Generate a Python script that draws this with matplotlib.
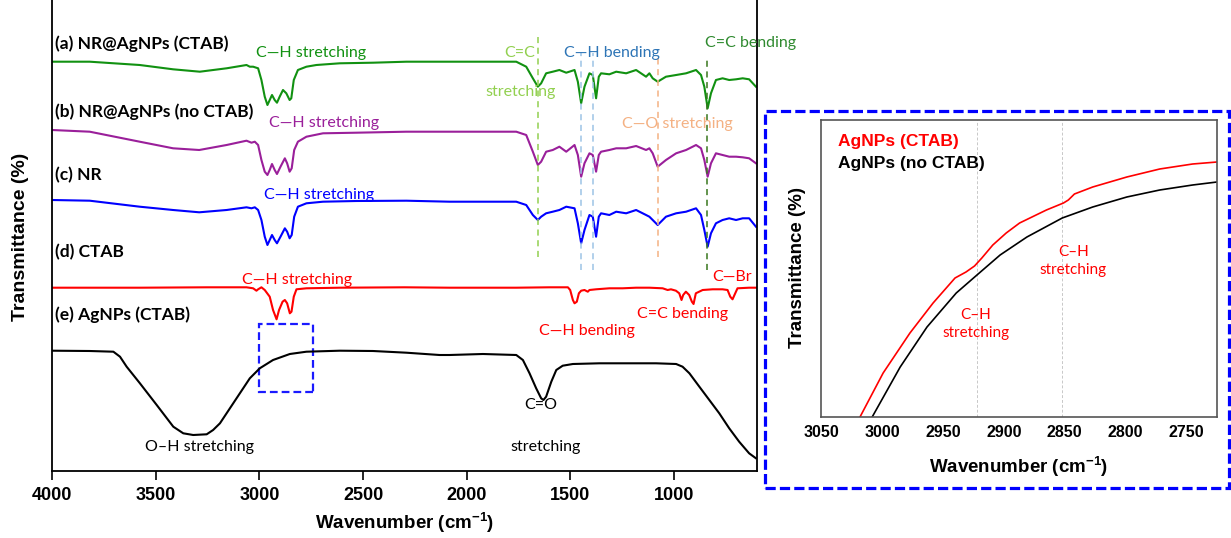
import matplotlib
matplotlib.use("Agg")
import matplotlib.pyplot as plt
from matplotlib.patches import Rectangle

plt.rcParams['font.family'] = ['Liberation Sans', 'DejaVu Sans']
plt.rcParams['mathtext.fontset'] = 'custom'
plt.rcParams['mathtext.rm'] = 'Liberation Sans'
plt.rcParams['mathtext.bf'] = 'Liberation Sans:bold'

# ---- FTIR spectra (wavenumber cm-1, stacked transmittance, arb. units) ----
# shared fingerprint-region grid for NR samples
wn_fp = [2083, 1761, 1713, 1681, 1657, 1641, 1617, 1585, 1553, 1520,
         1480, 1464, 1448, 1432, 1408, 1392, 1376, 1363, 1352, 1312,
         1279, 1231, 1183, 1135, 1119, 1103, 1079, 1039, 990, 942,
         894, 870, 854, 838, 822, 798, 766, 734, 701, 669, 638, 605]

wn_a = [4000, 3818, 3577, 3416, 3287, 3158, 3062, 3046, 3030, 3006,
        2990, 2974, 2961, 2950, 2939, 2926, 2915, 2902, 2886, 2870,
        2854, 2846, 2834, 2814, 2773, 2725, 2612, 2452, 2291] + wn_fp
t_a = [409.3, 409.3, 406, 401.7, 399.3, 402.7, 406, 404.3, 404.3, 402.7,
       391, 374.3, 366, 371, 376, 371, 368.3, 374.3, 381, 377.7,
       371, 372.7, 391, 401, 404.3, 406, 407.7, 408.3, 409.3,
       409.3, 409.3, 404.3, 392.7, 384.3, 387.7, 397.7, 399.3, 401, 398.3,
       401, 389.3, 367.7, 384.3, 397.7, 396, 372.7, 394.3, 397.7, 396.7,
       399.3, 397.7, 401, 394.3, 397.7, 392.7, 389.3, 394.3, 396, 397.7,
       401, 396, 384.3, 362.7, 377.7, 391, 392.7, 391, 391.7, 392.7, 391.7, 384.3]

wn_bc = [4000, 3818, 3577, 3416, 3290, 3158, 3062, 3038, 3022, 3006,
         2990, 2974, 2961, 2950, 2939, 2926, 2915, 2898, 2877, 2866,
         2854, 2844, 2832, 2814, 2773, 2693, 2532, 2291]
wn_b = wn_bc + wn_fp
t_b = [341, 339.3, 329.3, 322.7, 321, 326, 330.3, 328.3, 329.3, 326,
       311, 299.3, 296, 301, 307, 301, 297, 304.3, 312.7, 307.7,
       299.3, 302.7, 321, 329.3, 334.3, 337.7, 338.3, 339.3,
       339.3, 339.3, 336, 319.3, 306, 309.3, 319.3, 321, 324.3, 319.3,
       326, 316, 294.3, 307.7, 317.7, 316, 299.3, 316, 319.3, 321,
       322.7, 322.7, 325, 321, 322.7, 317.7, 304.3, 311, 317.7, 321,
       326, 322.7, 311, 294.3, 307.7, 317.7, 316, 314.3, 314.3, 313.7, 312.7, 307.7]

wn_c = wn_bc + wn_fp
t_c = [271, 270.3, 264.3, 261, 258.7, 261, 263.7, 262.7, 263.7, 261,
       251, 234.3, 226, 231, 236, 231, 227.7, 234.3, 242.7, 239.3,
       232.7, 236, 254.3, 264.3, 267.7, 269.3, 270, 270.3,
       269.3, 269.3, 266, 256, 251, 254.3, 257.7, 259.3, 261, 264.3,
       262.7, 247.7, 227.7, 241, 256, 254.3, 234.3, 254.3, 257.7, 256,
       259.3, 257.7, 261, 256, 254.3, 251, 246, 254.3, 257.7, 259.3,
       262.7, 256, 241, 224.3, 237.7, 247.7, 251, 252.7, 251, 252.7, 252.7, 244.3]

wn_d = [4000, 3576, 3254, 3062, 3030, 3014, 3006, 2990, 2974, 2950,
        2934, 2917, 2905, 2888, 2877, 2866, 2853, 2845, 2834, 2821,
        2773, 2612, 2300,
        2083, 1761, 1601, 1512, 1501, 1488, 1480, 1469, 1459, 1448,
        1432, 1416, 1408, 1376, 1312, 1248, 1183, 1119, 1055, 1031,
        1015, 991, 975, 964, 956, 943, 927, 914, 906, 895,
        862, 814, 766, 742, 729, 718, 705, 694, 638, 605]
t_d = [183.3, 183.3, 183.7, 183.7, 182.7, 180.3, 181.7, 183.7, 181, 174.3,
       161, 151.7, 161, 169.3, 171, 167.7, 157.7, 159.3, 174.3, 181.7,
       182.7, 183.3, 183.7,
       183.3, 183.3, 183.7, 183.7, 181, 171, 167.7, 169.3, 177.7, 180.3,
       181, 179.3, 181, 181.7, 182.7, 182.7, 183.3, 183.3, 182.7, 181,
       181.7, 180.3, 177.7, 171, 176, 179.3, 176, 169.3, 167, 177.7,
       181, 181.7, 181.7, 181, 174.3, 171.7, 177.7, 182.7, 183.3, 183.3]

wn_e = [4000, 3818, 3704, 3672, 3640, 3576, 3495, 3415, 3367, 3319,
        3254, 3223, 3190, 3142, 3094, 3046, 2998, 2934, 2853, 2773,
        2612, 2452, 2291, 2131,
        2083, 1922, 1761, 1729, 1697, 1665, 1641, 1630, 1617, 1592,
        1568, 1537, 1488, 1360, 1199, 1087, 990, 959, 926, 878,
        830, 782, 734, 686, 638, 605]
t_e = [120.3, 120, 119.3, 114.3, 104.3, 87.7, 66, 44.3, 37.7, 36,
       36.7, 41, 47.7, 62.7, 77.7, 92.7, 102.7, 111, 117, 119.3,
       120.3, 120, 118.3, 116,
       116, 117, 116, 111, 97.7, 82.7, 72.7, 71, 74.3, 89.3,
       101, 105.3, 107, 107.7, 107.7, 107.7, 107, 104.3, 97.7, 84.3,
       71, 57.7, 42.7, 29.3, 17.7, 12.7]

# zoomed AgNPs spectra (inset)
wn_z_ctab = [3018, 2999, 2977, 2958, 2940, 2931, 2924, 2918, 2909, 2898, 2887,
             2865, 2857, 2851, 2847, 2842, 2827, 2799, 2772, 2745, 2725]
t_z_ctab = [0, 44, 84, 114, 139, 145, 151, 159, 172, 184, 194,
            207, 211, 214, 217, 223, 230, 240, 248, 253, 255]
wn_z_no = [3008, 2985, 2963, 2939, 2922, 2903, 2881, 2852, 2827, 2799, 2772, 2745, 2725]
t_z_no = [0, 50, 90, 124, 142, 162, 180, 199, 210, 220, 227, 232, 235]

x_ticks = [4000, 3500, 3000, 2500, 2000, 1500, 1000]
inset_ticks = [3050, 3000, 2950, 2900, 2850, 2800, 2750]

# ---- figure ----
W, H = 1231, 538
fig = plt.figure(figsize=(W / 100, H / 100), dpi=100)
ax = fig.add_axes([52 / W, 1 - 471 / H, (757 - 52) / W, 471 / H])

ax.plot(wn_a, t_a, color='#119111', lw=1.5)
ax.plot(wn_b, t_b, color='#9a1f9a', lw=1.5)
ax.plot(wn_c, t_c, color='#0000ff', lw=1.5)
ax.plot(wn_d, t_d, color='#ff0000', lw=1.5)
ax.plot(wn_e, t_e, color='black', lw=1.5)

# dashed marker lines
ax.plot([1657, 1657], [214, 438], color='#92d050', ls=(0, (4, 3)), lw=1.1)
ax.plot([1448, 1448], [201, 418], color='#9dc3e6', ls=(0, (4, 3)), lw=1.1)
ax.plot([1392, 1392], [201, 418], color='#9dc3e6', ls=(0, (4, 3)), lw=1.1)
ax.plot([1079, 1079], [214, 416], color='#f4b183', ls=(0, (4, 3)), lw=1.1)
ax.plot([843, 843], [201, 413], color='#38761d', ls=(0, (4, 3)), lw=1.1)

ax.add_patch(Rectangle((2743, 79), 259, 68, fill=False, ec='#1a1aff', lw=1.6,
                       ls=(0, (3.5, 1.8))))

ax.set_xlim(4000, 600)
ax.set_ylim(0, 471)
ax.set_xticks(x_ticks)
ax.set_xticklabels([str(v) for v in x_ticks], fontsize=13, fontweight='bold')
ax.set_yticks([])
ax.tick_params(axis='x', direction='out', length=6.5, width=1.2, pad=5)
ax.spines['top'].set_visible(False)
for s in ['left', 'bottom', 'right']:
    ax.spines[s].set_linewidth(1.3)

ann = ['Lato', 'DejaVu Sans']
lab_kw = dict(family=ann, fontsize=12.5, fontweight='bold', ha='left', va='center')
ax.text(3985, 427, '(a) NR@AgNPs (CTAB)', **lab_kw)
ax.text(3985, 359, '(b) NR@AgNPs (no CTAB)', **lab_kw)
ax.text(3985, 296, '(c) NR', **lab_kw)
ax.text(3985, 219, '(d) CTAB', **lab_kw)
ax.text(3985, 156, '(e) AgNPs (CTAB)', **lab_kw)

a_kw = dict(family=ann, fontsize=11.5, ha='center', va='center')
ax.text(2750, 418, 'C\u2014H stretching', color='#119111', **a_kw)
ax.text(2687, 348, 'C\u2014H stretching', color='#9a1f9a', **a_kw)
ax.text(2713, 276, 'C\u2014H stretching', color='#0000ff', **a_kw)
ax.text(2817, 191, 'C\u2014H stretching', color='#ff0000', **a_kw)
ax.text(3287, 24, 'O\u2013H stretching', color='black', **a_kw)
ax.text(1745, 418, 'C=C', color='#92d050', **a_kw)
ax.text(1740, 379, 'stretching', color='#92d050', **a_kw)
ax.text(1300, 418, 'C\u2014H bending', color='#2e75b6', **a_kw)
ax.text(633, 428, 'C=C bending', color='#2f8a2f', **a_kw)
ax.text(982, 347, 'C\u2014O stretching', color='#f4b183', **a_kw)
ax.text(722, 194, 'C\u2014Br', color='#ff0000', **a_kw)
ax.text(960, 157, 'C=C bending', color='#ff0000', **a_kw)
ax.text(1418, 140, 'C\u2014H bending', color='#ff0000', **a_kw)
ax.text(1642, 66, 'C=O', color='black', **a_kw)
ax.text(1618, 24, 'stretching', color='black', **a_kw)

fig.text(405 / W, 1 - 523 / H, r'Wavenumber (cm$^{\mathbf{-1}}$)', fontsize=13.5,
         fontweight='bold', ha='center', va='center')
fig.text(21 / W, 1 - 237 / H, 'Transmittance (%)', fontsize=14, fontweight='bold',
         rotation=90, ha='center', va='center')

# ---- inset ----
fig.patches.append(Rectangle((765 / W, 1 - 488 / H), (1229 - 765) / W, (488 - 111) / H,
                             transform=fig.transFigure, fill=False, ec='#0000ff',
                             lw=2.3, ls=(0, (3.2, 1.3))))

axi = fig.add_axes([821 / W, 1 - 417 / H, (1217 - 821) / W, (417 - 120) / H])
axi.axvline(2922, color='#c8c8c8', lw=0.7, ls=(0, (3, 2)))
axi.axvline(2852, color='#c8c8c8', lw=0.7, ls=(0, (3, 2)))
axi.plot(wn_z_ctab, t_z_ctab, color='#ff0000', lw=1.2)
axi.plot(wn_z_no, t_z_no, color='black', lw=1.2)
axi.set_xlim(3050, 2725)
axi.set_ylim(0, 297)
axi.set_xticks(inset_ticks)
axi.set_xticklabels([str(v) for v in inset_ticks], fontsize=11.5, fontweight='bold')
axi.set_yticks([])
axi.tick_params(axis='x', length=0, pad=6)
for s in axi.spines.values():
    s.set_color('#555555')
    s.set_linewidth(1.2)

axi.text(0.043, 0.926, 'AgNPs (CTAB)', transform=axi.transAxes, color='#ff0000',
         fontsize=12.5, fontweight='bold', ha='left', va='center')
axi.text(0.043, 0.855, 'AgNPs (no CTAB)', transform=axi.transAxes, color='black',
         fontsize=12.5, fontweight='bold', ha='left', va='center')
axi.text(2923, 93, 'C\u2013H\nstretching', color='#ff0000', family=ann, fontsize=11,
         ha='center', va='center', linespacing=1.4)
axi.text(2843, 156, 'C\u2013H\nstretching', color='#ff0000', family=ann, fontsize=11,
         ha='center', va='center', linespacing=1.4)

fig.text(1019 / W, 1 - 467 / H, r'Wavenumber (cm$^{\mathbf{-1}}$)', fontsize=13.5,
         fontweight='bold', ha='center', va='center')
fig.text(797 / W, 1 - 268 / H, 'Transmittance (%)', fontsize=13.5, fontweight='bold',
         rotation=90, ha='center', va='center')

fig.savefig('out.png', dpi=100)
